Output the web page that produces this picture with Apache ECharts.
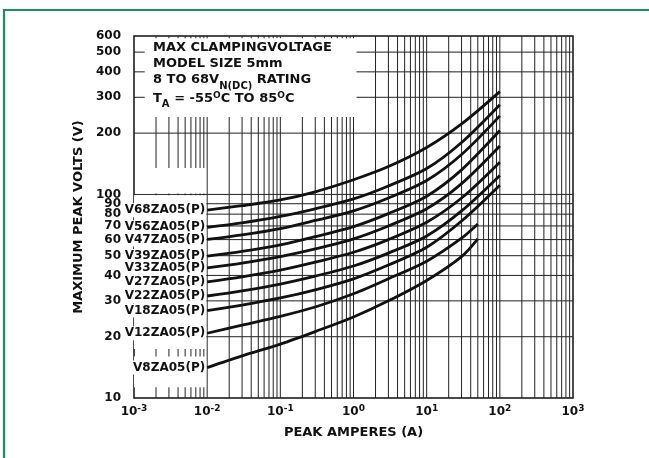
<!DOCTYPE html>
<html><head><meta charset="utf-8">
<script src="https://cdn.jsdelivr.net/npm/echarts@6/dist/echarts.min.js"></script>
<style>html,body{margin:0;padding:0;background:#fff}#c{width:649px;height:458px}</style>
</head><body><div id="c"></div>
<script>
const FONT = 'DejaVu Sans';
const INK = '#111';

// Peak current sample points (A)
const xCurrents = [0.01, 0.03, 0.1, 0.3, 1, 3, 10, 30, 100];
const xCurrentsShort = [0.01, 0.03, 0.1, 0.3, 1, 3, 10, 30, 50];

// Maximum peak volts
const v68 = [83.7, 88, 94, 103, 118, 137, 170, 222, 320];
const v56 = [68.9, 72.5, 78, 85, 95, 110, 134, 180, 276];
const v47 = [60.1, 63.3, 68, 74.5, 83, 96, 117, 157, 243];
const v39 = [49.8, 52.5, 56.5, 62, 69.5, 80.5, 98, 132, 206];
const v33 = [43.6, 46, 49.5, 54, 60.5, 70, 85, 113, 173];
const v27 = [37.2, 39.4, 42.5, 46.5, 52, 60, 73, 96, 144];
const v22 = [31.7, 33.6, 36.3, 39.7, 44.5, 51.5, 62.5, 83, 124];
const v18 = [26.9, 28.6, 31, 34, 38.5, 45, 55, 74, 111];
const v12 = [20.8, 22.8, 25.2, 28, 32.5, 38.5, 47, 61, 71.6];
const v8  = [14.1, 16.1, 18.4, 21.2, 25.0, 30.0, 37.8, 49.5, 60.5];

const curveNames = ['V68ZA05(P)','V56ZA05(P)','V47ZA05(P)','V39ZA05(P)','V33ZA05(P)',
                    'V27ZA05(P)','V22ZA05(P)','V18ZA05(P)','V12ZA05(P)','V8ZA05(P)'];
const curveValues = [v68, v56, v47, v39, v33, v27, v22, v18, v12, v8];
const curveX = [xCurrents, xCurrents, xCurrents, xCurrents, xCurrents,
                xCurrents, xCurrents, xCurrents, xCurrentsShort, xCurrentsShort];

// Tick labels
const xTickValues = [0.001, 0.01, 0.1, 1, 10, 100, 1000];
const yTickValues = [10, 20, 30, 40, 50, 60, 70, 80, 90, 100, 200, 300, 400, 500, 600];

// Grid lines
const xGridMantissas = [1, 2, 3, 4, 5, 6, 7, 8, 9];
const xGridDecades = [0.001, 0.01, 0.1, 1, 10, 100];
const yGridValues = [20, 30, 40, 50, 60, 70, 80, 90, 100, 200, 300, 400, 500];
const X_MIN = 0.001, X_MAX = 1000, Y_MIN = 10, Y_MAX = 600;

// White boxes behind the texts (data coords)
const boxTitle = [[0.0014, 240], [1.1, 585]];
const boxLabelsTop = [[0.00105, 101], [0.0097, 135]];
const boxLabelsUpper = [[0.001, 17.4], [0.0097, 99]];
const boxLabelsLower = [[0.001, 11.3], [0.0097, 16]];

const chart = echarts.init(document.getElementById('c'), null, { renderer: 'canvas' });

const supRich = {
  b: { fontFamily: FONT, fontWeight: 'bold', fontSize: 12, color: INK, lineHeight: 14, verticalAlign: 'bottom' },
  s: { fontFamily: FONT, fontWeight: 'bold', fontSize: 9, color: INK, lineHeight: 10, padding: [0, 0, 8, 0], verticalAlign: 'top' }
};

const gridStyle = { color: '#222', width: 1, type: 'solid' };
const series = [];
xGridDecades.forEach(d => xGridMantissas.forEach(m => {
  const v = m * d;
  if (v > 0.0011) {
    series.push({ type: 'line', silent: true, z: 1, symbol: 'none', animation: false,
      lineStyle: gridStyle, emphasis: { disabled: true },
      data: [[v, Y_MIN], [v, Y_MAX]] });
  }
}));
yGridValues.forEach(v => {
  series.push({ type: 'line', silent: true, z: 1, symbol: 'none', animation: false,
    lineStyle: gridStyle, emphasis: { disabled: true },
    data: [[X_MIN, v], [X_MAX, v]] });
});

curveNames.forEach((name, i) => {
  const xs = curveX[i];
  const ys = curveValues[i];
  const data = xs.map((x, j) => {
    const item = { value: [x, ys[j]] };
    if (j === 0) {
      item.label = {
        show: true, position: 'left', distance: 1, formatter: name,
        fontFamily: FONT, fontWeight: 'bold', fontSize: 12, color: INK,
        backgroundColor: '#fff', padding: [1, 1, 1, 1]
      };
    }
    return item;
  });
  series.push({
    type: 'line', name, data, z: 5, smooth: 0.3,
    showSymbol: true, symbol: 'circle', symbolSize: 0,
    lineStyle: { color: INK, width: 2.8 },
    itemStyle: { color: INK },
    label: { show: false },
    emphasis: { disabled: true }
  });
});

const option = {
  animation: false,
  backgroundColor: '#fff',
  grid: { left: 134, right: 76, top: 36, bottom: 60, show: true, borderColor: INK, borderWidth: 1.5, backgroundColor: 'transparent' },
  xAxis: {
    type: 'log', logBase: 10, min: X_MIN, max: X_MAX,
    splitLine: { show: false }, axisTick: { show: false }, axisLine: { show: false },
    axisLabel: {
      customValues: xTickValues, margin: 6,
      formatter: v => '{b|10}{s|' + Math.round(Math.log10(v)) + '}',
      rich: supRich
    },
    name: 'PEAK AMPERES (A)', nameLocation: 'middle', nameGap: 16,
    nameTextStyle: { fontFamily: FONT, fontWeight: 'bold', fontSize: 13, color: INK }
  },
  yAxis: {
    type: 'log', logBase: 10, min: Y_MIN, max: Y_MAX,
    splitLine: { show: false }, axisTick: { show: false }, axisLine: { show: false },
    axisLabel: {
      customValues: yTickValues, margin: 13,
      fontFamily: FONT, fontWeight: 'bold', fontSize: 12, color: INK
    },
    name: 'MAXIMUM PEAK VOLTS (V)', nameLocation: 'middle', nameGap: 43,
    nameTextStyle: { fontFamily: FONT, fontWeight: 'bold', fontSize: 13, color: INK }
  },
  series
};
chart.setOption(option);

function boxRect(b) {
  const p0 = chart.convertToPixel({ gridIndex: 0 }, b[0]);
  const p1 = chart.convertToPixel({ gridIndex: 0 }, b[1]);
  return { x: Math.min(p0[0], p1[0]), y: Math.min(p0[1], p1[1]),
           width: Math.abs(p1[0] - p0[0]), height: Math.abs(p1[1] - p0[1]) };
}
const whiteBoxes = [boxTitle, boxLabelsTop, boxLabelsUpper, boxLabelsLower].map(b => ({
  type: 'rect', z: 3, silent: true, shape: boxRect(b), style: { fill: '#fff', stroke: null }
}));

chart.setOption({
  graphic: whiteBoxes.concat([
    { type: 'polyline', z: 100, silent: true,
      shape: { points: [[4, 458], [4, 10], [649, 10]] },
      style: { stroke: '#1b8f5f', lineWidth: 2.2, fill: null } },
    { type: 'text', x: 153, y: 47.5, z: 100, silent: true,
      style: { text: 'MAX CLAMPINGVOLTAGE', fill: INK, font: 'bold 13px "DejaVu Sans"', verticalAlign: 'middle', align: 'left' } },
    { type: 'text', x: 153, y: 64, z: 100, silent: true,
      style: { text: 'MODEL SIZE 5mm', fill: INK, font: 'bold 13px "DejaVu Sans"', verticalAlign: 'middle', align: 'left' } },
    { type: 'text', x: 153, y: 73, z: 100, silent: true,
      style: {
        text: '{b|8 TO 68V}{sub|N(DC)}{b| RATING}', verticalAlign: 'top', align: 'left',
        rich: {
          b: { fontFamily: FONT, fontWeight: 'bold', fontSize: 13, fill: INK, lineHeight: 14, verticalAlign: 'top' },
          sub: { fontFamily: FONT, fontWeight: 'bold', fontSize: 10, fill: INK, lineHeight: 10, padding: [8, 0, 0, 0], verticalAlign: 'top' }
        }
      } },
    { type: 'text', x: 153, y: 88, z: 100, silent: true,
      style: {
        text: '{b|T}{sub|A}{b| = -55}{sup|O}{b|C TO 85}{sup|O}{b|C}', verticalAlign: 'top', align: 'left',
        rich: {
          b: { fontFamily: FONT, fontWeight: 'bold', fontSize: 13, fill: INK, lineHeight: 14, padding: [4, 0, 0, 0], verticalAlign: 'top' },
          sub: { fontFamily: FONT, fontWeight: 'bold', fontSize: 10, fill: INK, lineHeight: 10, padding: [11, 0, 0, 0], verticalAlign: 'top' },
          sup: { fontFamily: FONT, fontWeight: 'bold', fontSize: 9, fill: INK, lineHeight: 10, padding: [3, 0, 0, 0], verticalAlign: 'top' }
        }
      } }
  ])
});
</script>
</body></html>
